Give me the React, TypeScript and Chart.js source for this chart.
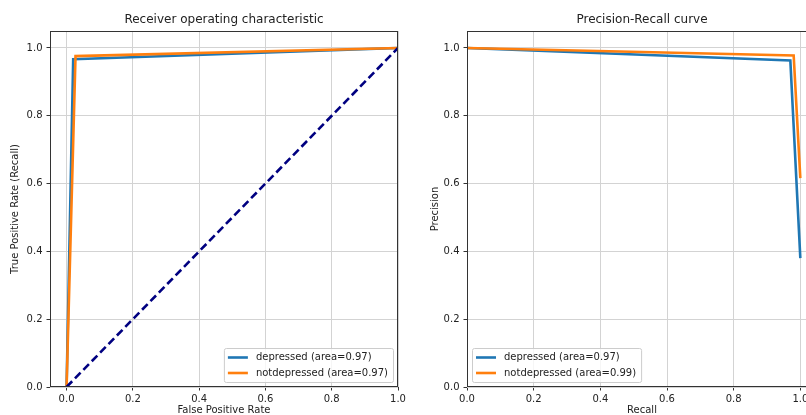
import React, { useEffect, useRef } from "react";
import { Chart, registerables } from "chart.js";
Chart.register(...registerables);

// ---------- data ----------
const tickValues = [0, 0.2, 0.4, 0.6, 0.8, 1.0];
const rocTitle = "Receiver operating characteristic";
const prTitle = "Precision-Recall curve";
const rocXLabel = "False Positive Rate";
const rocYLabel = "True Positive Rate (Recall)";
const prXLabel = "Recall";
const prYLabel = "Precision";
const classNames = ["depressed", "notdepressed"];
const rocAreas = ["0.97", "0.97"];
const prAreas = ["0.97", "0.99"];

const rocFprDepressed = [0, 0.02, 1];
const rocTprDepressed = [0, 0.967, 1];
const rocFprNotDepressed = [0, 0.027, 1];
const rocTprNotDepressed = [0, 0.976, 1];
const chanceX = [0, 1];
const chanceY = [0, 1];

const prRecallDepressed = [0, 0.97, 1];
const prPrecisionDepressed = [1, 0.963, 0.38];
const prRecallNotDepressed = [0, 0.98, 1];
const prPrecisionNotDepressed = [1, 0.978, 0.616];

// ---------- styles ----------
const BLUE = "#1f77b4";
const ORANGE = "#ff7f0e";
const NAVY = "#000080";
const FONT = '"DejaVu Sans", sans-serif';
const TEXT = "#222";
const GRID = "#d3d3d3";
const LW = 2.6;

const zip = (xs: number[], ys: number[]) => xs.map((x, i) => ({ x, y: ys[i] }));

const overlayPlugin = {
  id: "overlay",
  afterDatasetsDraw(chart: any, _args: any, opts: any) {
    const { ctx, chartArea: a } = chart;
    ctx.save();
    // frame (spines)
    ctx.strokeStyle = "#333";
    ctx.lineWidth = 1;
    const l = Math.round(a.left) + 0.5;
    const t = Math.round(a.top) + 0.5;
    const r = Math.round(a.right) - 0.5;
    const b = Math.round(a.bottom) - 0.5;
    ctx.strokeRect(l, t, r - l, b - t);
    // legend
    const items: { label: string; color: string }[] = opts.items || [];
    ctx.font = `10px ${FONT}`;
    const textW = Math.max(...items.map((i) => ctx.measureText(i.label).width));
    const boxW = 4 + 20 + 8 + textW + 5;
    const boxH = 34;
    const bx = opts.corner === "right" ? a.right - 5 - boxW : a.left + 5;
    const by = a.bottom - 5 - boxH;
    ctx.beginPath();
    (ctx as any).roundRect(bx + 0.5, by + 0.5, boxW, boxH, 2);
    ctx.fillStyle = "rgba(255,255,255,0.8)";
    ctx.fill();
    ctx.strokeStyle = "#cccccc";
    ctx.stroke();
    items.forEach((it, i) => {
      const cy = by + 9.5 + i * 15.5;
      ctx.beginPath();
      ctx.strokeStyle = it.color;
      ctx.lineWidth = LW;
      ctx.moveTo(bx + 4, cy);
      ctx.lineTo(bx + 24, cy);
      ctx.stroke();
      ctx.fillStyle = TEXT;
      ctx.textBaseline = "middle";
      ctx.textAlign = "left";
      ctx.fillText(it.label, bx + 32, cy);
    });
    ctx.restore();
  },
};

function makeConfig(p: any) {
  const font = { family: FONT, size: 10 };
  return {
    type: "line",
    data: { datasets: p.datasets },
    plugins: [overlayPlugin],
    options: {
      animation: false,
      responsive: false,
      devicePixelRatio: 1,
      events: [],
      layout: { padding: { left: 0, right: p.padRight, top: 0, bottom: 0 } },
      elements: { point: { radius: 0 }, line: { tension: 0 } },
      plugins: {
        legend: { display: false },
        tooltip: { enabled: false },
        title: {
          display: true,
          text: p.title,
          fullSize: false,
          color: TEXT,
          font: { family: FONT, size: 12, weight: "normal" },
          padding: { top: 12.8, bottom: 3.8 },
        },
        overlay: { items: p.legendItems, corner: p.corner },
      },
      scales: {
        x: {
          type: "linear",
          min: p.xMin,
          max: p.xMax,
          afterBuildTicks: (s: any) => {
            s.ticks = tickValues.map((v) => ({ value: v }));
          },
          afterFit: (s: any) => {
            s.height = 28;
            s.paddingLeft = 0;
            s.paddingRight = 0;
            s.paddingTop = 0;
            s.paddingBottom = 0;
          },
          border: { display: false },
          grid: { color: GRID, lineWidth: 1, drawTicks: true, tickLength: 3.5, tickColor: "#333", tickWidth: 1 },
          ticks: { font, color: TEXT, padding: 3, maxRotation: 0, callback: (v: any) => Number(v).toFixed(1) },
          title: { display: true, text: p.xTitle, color: TEXT, font, padding: { top: 0, bottom: -1 } },
        },
        y: {
          type: "linear",
          min: 0,
          max: 1.05,
          afterBuildTicks: (s: any) => {
            s.ticks = tickValues.map((v) => ({ value: v }));
          },
          afterFit: (s: any) => {
            s.width = p.yAxisWidth;
            s.paddingLeft = 0;
            s.paddingRight = 0;
            s.paddingTop = 0;
            s.paddingBottom = 0;
          },
          border: { display: false },
          grid: { color: GRID, lineWidth: 1, drawTicks: true, tickLength: 3.5, tickColor: "#333", tickWidth: 1 },
          ticks: { font, color: TEXT, padding: 4, callback: (v: any) => Number(v).toFixed(1) },
          title: { display: true, text: p.yTitle, color: TEXT, font, padding: { top: p.yTitlePad, bottom: 0 } },
        },
      },
    },
  };
}

function ChartCanvas({ config, width, height, left }: any) {
  const ref = useRef<HTMLCanvasElement>(null);
  useEffect(() => {
    if (!ref.current) return;
    const chart = new Chart(ref.current, config);
    return () => chart.destroy();
  }, []);
  return (
    <canvas
      ref={ref}
      width={width}
      height={height}
      style={{ position: "absolute", left, top: 0, width, height }}
    />
  );
}

export default function App() {
  const rocConfig = makeConfig({
    title: rocTitle,
    xTitle: rocXLabel,
    yTitle: rocYLabel,
    xMin: -0.05,
    xMax: 1.0,
    yAxisWidth: 50,
    yTitlePad: 9,
    padRight: 22,
    corner: "right",
    legendItems: [
      { label: `${classNames[0]} (area=${rocAreas[0]})`, color: BLUE },
      { label: `${classNames[1]} (area=${rocAreas[1]})`, color: ORANGE },
    ],
    datasets: [
      { label: classNames[0], data: zip(rocFprDepressed, rocTprDepressed), borderColor: BLUE, borderWidth: LW, order: 3, fill: false },
      { label: classNames[1], data: zip(rocFprNotDepressed, rocTprNotDepressed), borderColor: ORANGE, borderWidth: LW, order: 2, fill: false },
      { label: "chance", data: zip(chanceX, chanceY), borderColor: NAVY, borderWidth: LW, borderDash: [8, 4], order: 1, fill: false },
    ],
  });
  const prConfig = makeConfig({
    title: prTitle,
    xTitle: prXLabel,
    yTitle: prYLabel,
    xMin: 0,
    xMax: 1.05,
    yAxisWidth: 64,
    yTitlePad: 26,
    padRight: 5,
    corner: "left",
    legendItems: [
      { label: `${classNames[0]} (area=${prAreas[0]})`, color: BLUE },
      { label: `${classNames[1]} (area=${prAreas[1]})`, color: ORANGE },
    ],
    datasets: [
      { label: classNames[0], data: zip(prRecallDepressed, prPrecisionDepressed), borderColor: BLUE, borderWidth: LW, order: 3, fill: false },
      { label: classNames[1], data: zip(prRecallNotDepressed, prPrecisionNotDepressed), borderColor: ORANGE, borderWidth: LW, order: 2, fill: false },
    ],
  });
  return (
    <div style={{ position: "fixed", left: 0, top: 0, width: 806, height: 415, overflow: "hidden", background: "#fff" }}>
      <ChartCanvas config={rocConfig} width={420} height={415} left={0} />
      <ChartCanvas config={prConfig} width={419} height={415} left={403} />
    </div>
  );
}
